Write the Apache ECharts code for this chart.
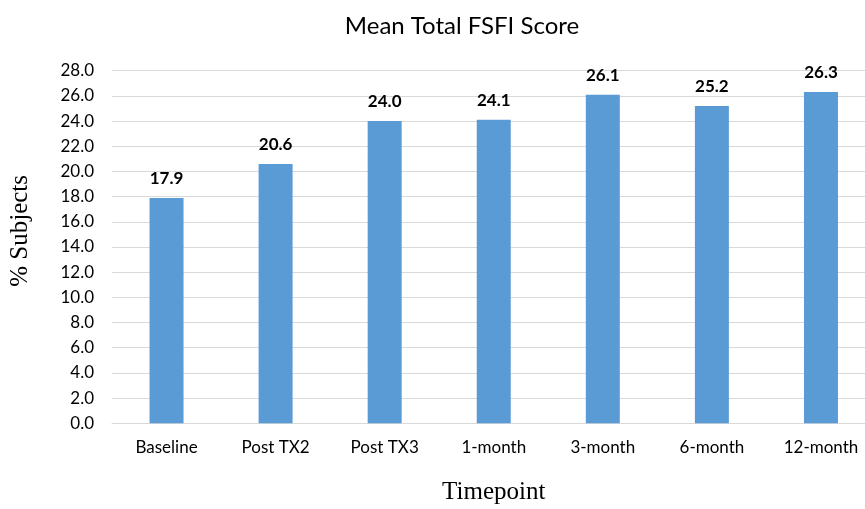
<!DOCTYPE html>
<html>
<head>
<meta charset="utf-8">
<script src="https://cdn.jsdelivr.net/npm/echarts@6/dist/echarts.min.js"></script>
<style>html,body{margin:0;padding:0;background:#fff}#c{width:865px;height:509px}</style>
</head>
<body>
<div id="c"></div>
<script>
const categories = ["Baseline", "Post TX2", "Post TX3", "1-month", "3-month", "6-month", "12-month"];
const meanScores = [17.9, 20.6, 24.0, 24.1, 26.1, 25.2, 26.3];
const yMin = 0, yMax = 28, yStep = 2;

const chart = echarts.init(document.getElementById('c'), null, {renderer: 'canvas'});
chart.setOption({
  animation: false,
  backgroundColor: '#ffffff',
  title: {
    text: 'Mean Total FSFI Score',
    left: 457, top: 9, textAlign: 'center',
    textStyle: {fontFamily: 'Lato', fontSize: 24, fontWeight: 'normal', color: '#000'}
  },
  graphic: [
    {type: 'text', left: 8, top: 175, rotation: Math.PI / 2,
     style: {text: '% Subjects', font: '25px "Liberation Serif"', fill: '#000'}},
  ],
  grid: {left: 112, width: 763.5, top: 70.7, height: 352.6, containLabel: false, outerBoundsMode: 'none'},
  xAxis: {
    type: 'category', data: categories,
    name: 'Timepoint', nameLocation: 'middle', nameGap: 57,
    nameTextStyle: {fontFamily: 'Liberation Serif', fontSize: 25, color: '#000'},
    axisLine: {show: true, lineStyle: {color: '#d9d9d9', width: 1}},
    axisTick: {show: false},
    axisLabel: {fontFamily: 'Lato', fontSize: 17, color: '#000', margin: 16}
  },
  yAxis: {
    type: 'value', min: yMin, max: yMax, interval: yStep,
    axisLine: {show: false}, axisTick: {show: false},
    splitLine: {lineStyle: {color: '#d9d9d9', width: 1}},
    axisLabel: {fontFamily: 'Lato', fontSize: 17, color: '#000', margin: 18,
      formatter: v => v.toFixed(1)}
  },
  series: [{
    type: 'bar', data: meanScores, barWidth: 34,
    itemStyle: {color: '#5b9bd5'},
    label: {show: true, position: 'top', distance: 11,
      fontFamily: 'Lato', fontSize: 17, fontWeight: 'bold', color: '#000',
      formatter: p => p.value.toFixed(1)}
  }]
});
</script>
</body>
</html>
